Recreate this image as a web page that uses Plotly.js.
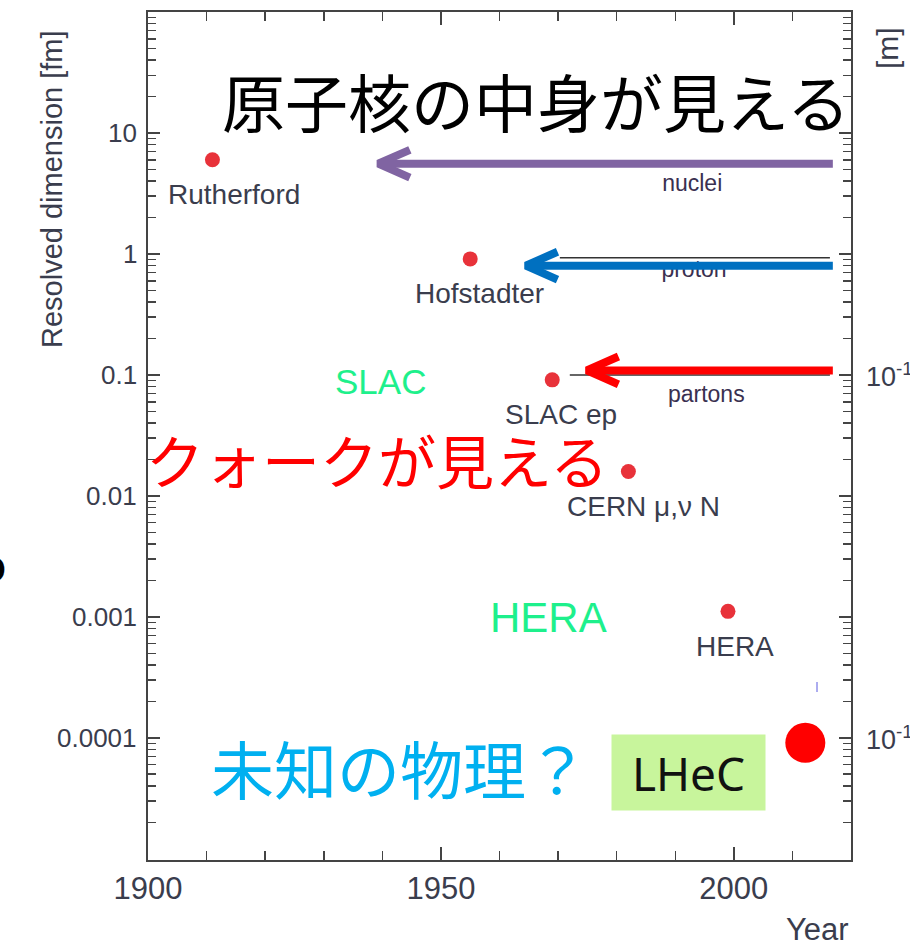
<!DOCTYPE html>
<html>
<head>
<meta charset="utf-8">
<script src="https://cdn.plot.ly/plotly-3.0.1.min.js"></script>
<style>html,body{margin:0;padding:0;background:#fff;}#chart{width:910px;height:946px;}</style>
</head>
<body>
<div id="chart"></div>
<script>
// ---- data ----
const expYears = [1911, 1955, 1969, 1982, 1999];
const expSizes = [6.0, 0.91, 0.091, 0.0159, 0.00111];
const expLabels = ['Rutherford', 'Hofstadter', 'SLAC ep', 'CERN \u03bc,\u03bd N', 'HERA'];
const lhecYears = [2012.2];
const lhecSizes = [9.1e-5];

const scaleNames = ['nuclei', 'proton', 'partons'];
const scaleLineLevel = [5.57, 0.93, 0.1];
const scaleLineStart = [1945, 1970.3, 1972.0];
const scaleLineEnd = [2016.4, 2016.4, 2016.4];
const scaleLabelYear = [1992.9, 1993.2, 1995.3];
const arrowLevel = [5.57, 0.80, 0.109];
const arrowTipYear = [1939.3, 1964.5, 1974.9];
const arrowEndYear = [2016.9, 2016.9, 2016.9];

const xTickVals = [1900, 1950, 2000];
const yTickVals = [1e-4, 1e-3, 1e-2, 1e-1, 1, 10];
const yTickText = ['0.0001', '0.001', '0.01', '0.1', '1', '10'];
const rightTickVals = [1e-1, 1e-4];
const rightTickText = ['10<sup>-16</sup>', '10<sup>-19</sup>'];

// ---- styles / layout helpers ----
const FONT = 'Liberation Sans, Arial, sans-serif';
const CJK = 'Noto Sans CJK JP, sans-serif';
const TXT = '#3a3d4d';
const AX = '#444444';
const arrowColors = ['#8064a2', '#0070c0', '#ff0000'];
const labelGap = [14, 2, 14];
const L = 148, T = 12, W = 703, H = 848;
const P = (x, y) => ({x: (x - L) / W, y: (T + H - y) / H});

const minorX = [];
for (let y = 1910; y <= 2010; y += 10) if (!xTickVals.includes(y)) minorX.push(y);
const minorY = [];
for (let k = -6; k <= 1; k++) for (let m = 2; m <= 9; m++) minorY.push(m * Math.pow(10, k));

const traces = [];
// thin scale lines
scaleNames.forEach((n, i) => {
  traces.push({x: [scaleLineStart[i], scaleLineEnd[i]], y: [scaleLineLevel[i], scaleLineLevel[i]],
    mode: 'lines', line: {color: '#333', width: 1.5}, hoverinfo: 'skip', showlegend: false});
});
// scale labels (drawn under the arrows)
traces.push({x: scaleLabelYear, y: scaleLineLevel, text: scaleNames, mode: 'markers+text',
  marker: {size: labelGap, opacity: 0},
  textposition: 'bottom center', textfont: {family: FONT, size: 23, color: '#3a3050'},
  hoverinfo: 'skip', showlegend: false});
// arrows
const armYears = 5.4, armDec = 0.115;
scaleNames.forEach((n, i) => {
  const lv = arrowLevel[i], tip = arrowTipYear[i];
  const up = lv * Math.pow(10, armDec), dn = lv / Math.pow(10, armDec);
  traces.push({x: [tip + armYears, tip, tip + armYears, null, tip, arrowEndYear[i]],
    y: [up, lv, dn, null, lv, lv], mode: 'lines', connectgaps: false,
    line: {color: arrowColors[i], width: 8}, hoverinfo: 'skip', showlegend: false});
});
// experiments
traces.push({x: expYears, y: expSizes, mode: 'markers',
  marker: {color: '#e8323a', size: 15}, showlegend: false});
traces.push({x: lhecYears, y: lhecSizes, mode: 'markers',
  marker: {color: '#ff0000', size: 40}, showlegend: false});

const ann = [];
// point labels
const labelDx = [22, 9, 9, 15, 7];
expLabels.forEach((t, i) => {
  ann.push({x: expYears[i], y: Math.log10(expSizes[i]), xref: 'x', yref: 'y', text: t,
    showarrow: false, xshift: labelDx[i], yshift: -35, font: {family: FONT, size: 28, color: TXT}});
});
// left tick labels
yTickVals.forEach((v, i) => {
  ann.push({x: 0, y: Math.log10(v), xref: 'paper', yref: 'y', text: yTickText[i], showarrow: false,
    xanchor: 'right', xshift: -9, font: {family: FONT, size: 26, color: TXT}});
});
// right-side labels
rightTickVals.forEach((v, i) => {
  ann.push({x: 1, y: Math.log10(v), xref: 'paper', yref: 'y', text: rightTickText[i], showarrow: false,
    xanchor: 'left', xshift: 13, font: {family: FONT, size: 27, color: TXT}});
});
function txt(t, px, py, size, color, family, extra) {
  const p = P(px, py);
  return Object.assign({x: p.x, y: p.y, xref: 'paper', yref: 'paper', text: t, showarrow: false,
    xanchor: 'center', yanchor: 'middle', font: {family: family, size: size, color: color}}, extra || {});
}
ann.push(txt('Resolved dimension [fm]', 52, 189, 29, TXT, FONT, {textangle: -90}));
ann.push(txt('[m]', 887, 48, 30, TXT, FONT, {textangle: -90}));
ann.push(txt('Year', 851, 929, 31, TXT, FONT, {xanchor: 'right'}));
ann.push(txt('原子核の中身が見える', 536, 100, 63, '#000000', CJK));
ann.push(txt('クォークが見える', 377, 459, 58, '#ff0000', CJK));
ann.push(txt('未知の物理？', 400, 766, 63, '#00b0f0', CJK));
ann.push(txt('SLAC', 380, 381, 35, '#1ef08c', FONT));
ann.push(txt('HERA', 548, 618, 42, '#1ef08c', FONT));
ann.push(txt('LHeC', 688.5, 772.5, 46, '#111111', 'Noto Sans, sans-serif',
  {bgcolor: '#c8f59c', width: 151, height: 73, borderpad: 1}));
ann.push(txt('o', 8, 566, 46, '#000000', FONT, {xanchor: 'right', font: {family: FONT, size: 46, color: '#000', weight: 'bold'}}));

const layout = {
  width: 910, height: 946,
  margin: {l: L, r: 910 - L - W, t: T, b: 946 - T - H},
  paper_bgcolor: '#ffffff', plot_bgcolor: '#ffffff',
  showlegend: false,
  xaxis: {range: [1900, 2020], tickvals: xTickVals, ticks: 'inside', ticklen: 13, tickwidth: 1.5,
    tickcolor: AX, showline: true, linecolor: AX, linewidth: 2, mirror: 'ticks', showgrid: false,
    zeroline: false, tickfont: {family: FONT, size: 31, color: TXT},
    minor: {tickvals: minorX, ticks: 'inside', ticklen: 9, tickwidth: 1.5, tickcolor: AX, showgrid: false}},
  yaxis: {type: 'log', range: [-5.01, 2.0], tickvals: yTickVals, ticks: 'inside', showticklabels: false,
    ticklen: 12, tickwidth: 1.5, tickcolor: AX, showline: true, linecolor: AX, linewidth: 2,
    mirror: 'ticks', showgrid: false, zeroline: false,
    minor: {tickvals: minorY, ticks: 'inside', ticklen: 8, tickwidth: 1.5, tickcolor: AX, showgrid: false}},
  annotations: ann,
  shapes: [{type: 'line', xref: 'paper', yref: 'paper', x0: P(817, 682).x, x1: P(817, 692).x,
    y0: P(817, 682).y, y1: P(817, 692).y, line: {color: '#5a5ae0', width: 1}}]
};
Plotly.newPlot('chart', traces, layout, {displayModeBar: false, staticPlot: true});
</script>
</body>
</html>
